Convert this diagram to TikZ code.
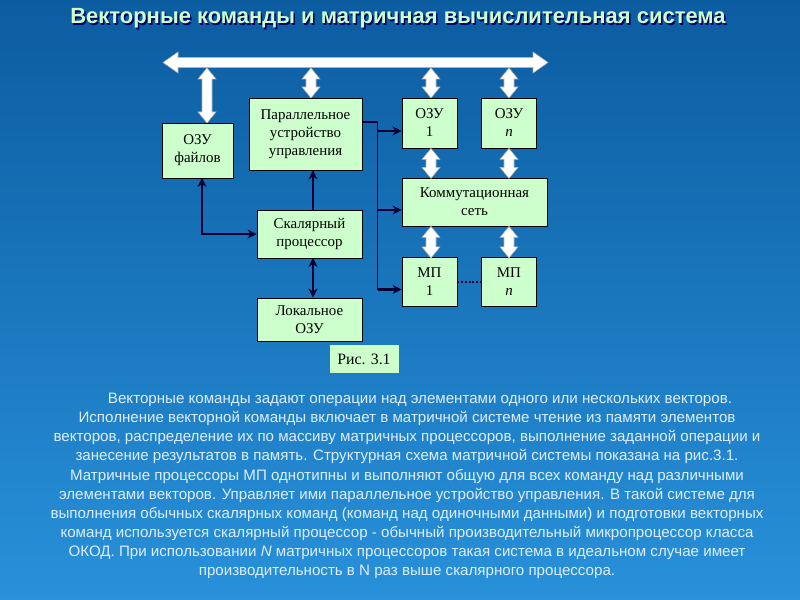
\documentclass[tikz,border=0pt]{standalone}
\usepackage{fontspec}
\setmainfont{Liberation Serif}
\newfontfamily\sansf{Liberation Sans}
\usetikzlibrary{arrows.meta}
\definecolor{mint}{RGB}{204,255,204}
\definecolor{bgtop}{RGB}{12,92,160}
\definecolor{bgbot}{RGB}{40,145,218}
\definecolor{navy}{RGB}{0,0,51}
\definecolor{txt}{RGB}{222,238,255}

\begin{document}
\begin{tikzpicture}[x=0.2mm,y=-0.2mm]

    \shade[top color=bgtop, middle color=bgtop, bottom color=bgbot] (0,0) rectangle (800,600);
    \useasboundingbox (0,0) rectangle (800,600);

    \tikzstyle{blk}=[draw=black,fill=mint,line width=0.5pt,align=center,inner sep=0pt,font=\fontsize{8.5}{10.2}\selectfont]
    \tikzstyle{wblk}=[fill=white,draw=black!30,line width=0.3pt]
    \tikzstyle{ln}=[navy,line width=0.45mm]
    \tikzstyle{tip}=[arrows={-Stealth[length=1.8mm,width=1.8mm]}]
    \tikzstyle{tips}=[arrows={Stealth[length=1.8mm,width=1.8mm]-Stealth[length=1.8mm,width=1.8mm]}]
    % white block arrow going down from #1, shaft #2
    \def\varr(#1)#2{\filldraw[wblk] (#1)--++(9,11)--++(-4,0)--++(0,#2)--++(4,0)--++(-9,11)--++(-9,-11)--++(4,0)--++(0,-#2)--++(-4,0)--cycle;}

    % title
    \node[font=\sansf\bfseries\fontsize{12.5}{14}\selectfont,text=black!60!blue](title') at (399.5,20){Векторные команды и матричная вычислительная система};
    \node[font=\sansf\bfseries\fontsize{12.5}{14}\selectfont,text=mint](title) at (398,18.5){Векторные команды и матричная вычислительная система};

    \node[blk,minimum width=14.2mm,minimum height=11mm](ozuf) at (197.5,150.5){ОЗУ\\файлов};
    \node[blk,minimum width=22.6mm,minimum height=14.4mm](puu) at (305.5,134){Параллельное\\устройство\\управления};
    \node[blk,minimum width=11mm,minimum height=10mm](ozu1) at (429.5,123){ОЗУ\\1};
    \node[blk,minimum width=11mm,minimum height=10mm](ozun) at (509,123){ОЗУ\\\textit{n}};
    \node[blk,minimum width=29mm,minimum height=9.6mm](kom) at (474.5,202){Коммутационная\\сеть};
    \node[blk,minimum width=21mm,minimum height=9.6mm](scal) at (309.5,234){Скалярный\\процессор};
    \node[blk,minimum width=11mm,minimum height=9.8mm](mp1) at (429.5,282){МП\\1};
    \node[blk,minimum width=11mm,minimum height=9.8mm](mpn) at (509,282){МП\\\textit{n}};
    \node[blk,minimum width=21mm,minimum height=8.6mm](lozu) at (309.5,319.5){Локальное\\ОЗУ};
    \node[blk,draw=none,minimum width=13.8mm,minimum height=5.6mm,font=\fontsize{9}{10}\selectfont](ris) at (364,359){Рис. 3.1};

    % bus
    \coordinate (bl) at (163,62.5);
    \coordinate (br) at (548,62.5);
    \filldraw[wblk] (bl)--++(15,-10.5)--++(0,5.5)--++(355,0)--++(0,-5.5)--(br)--++(-15,10.5)--++(0,-5.5)--++(-355,0)--++(0,5.5)--cycle;

    \coordinate (b1) at (207,68);
    \coordinate (b2) at (311,68);
    \coordinate (b3) at (431,68);
    \coordinate (b4) at (509,68);
    \varr(b1){33}
    \varr(b2){8}
    \varr(b3){8}
    \varr(b4){8}
    \varr(b3 |- ozu1.south){8}
    \varr(b4 |- ozun.south){8}
    \varr(b3 |- kom.south){9.5}
    \varr(b4 |- kom.south){9.5}

    % scalar part
    \coordinate (c1) at (202,178);
    \coordinate (c2) at (313,210);
    \coordinate (c3) at (313,258);
    \draw[ln,tips] (c1) |- (scal.west);
    \draw[ln,tip] (c2)--(c2 |- puu.south);
    \draw[ln,tips] (c3)--(c3 |- lozu.north);

    % control lines
    \coordinate (c4) at (377.5,122);
    \coordinate (c5) at (377.5,290);
    \draw[navy,line width=0.3mm] (puu.east |- c4)--(c4)--(c5);
    \coordinate (a1) at ([yshift=-1.6mm]ozu1.west);
    \coordinate (a2) at ([yshift=-1.6mm]kom.west);
    \coordinate (a3) at ([yshift=-1.5mm]mp1.west);
    \draw[ln,tip] (a1 -| c4)--(a1);
    \draw[ln,tip] (a2 -| c4)--(a2);
    \draw[ln,tip] (a3 -| c4)--(a3);

    \draw[navy,line width=0.4mm,densely dotted] (mp1.east)--(mpn.west);

    % text
    \node[font=\sansf\fontsize{8.6}{10.9}\selectfont,text=txt,align=center,inner sep=0pt](body) at (407,486){\hspace*{5.2mm}Векторные команды задают операции над элементами одного или нескольких векторов.\\
    Исполнение векторной команды включает в матричной системе чтение из памяти элементов\\
    векторов, распределение их по массиву матричных процессоров, выполнение заданной операции и\\
    занесение результатов в память. Структурная схема матричной системы показана на рис.3.1.\\
    Матричные процессоры МП однотипны и выполняют общую для всех команду над различными\\
    элементами векторов. Управляет ими параллельное устройство управления. В такой системе для\\
    выполнения обычных скалярных команд (команд над одиночными данными) и подготовки векторных\\
    команд используется скалярный процессор - обычный производительный микропроцессор класса\\
    ОКОД. При использовании \textit{N} матричных процессоров такая система в идеальном случае имеет\\
    производительность в N раз выше скалярного процессора.};

\end{tikzpicture}
\end{document}
